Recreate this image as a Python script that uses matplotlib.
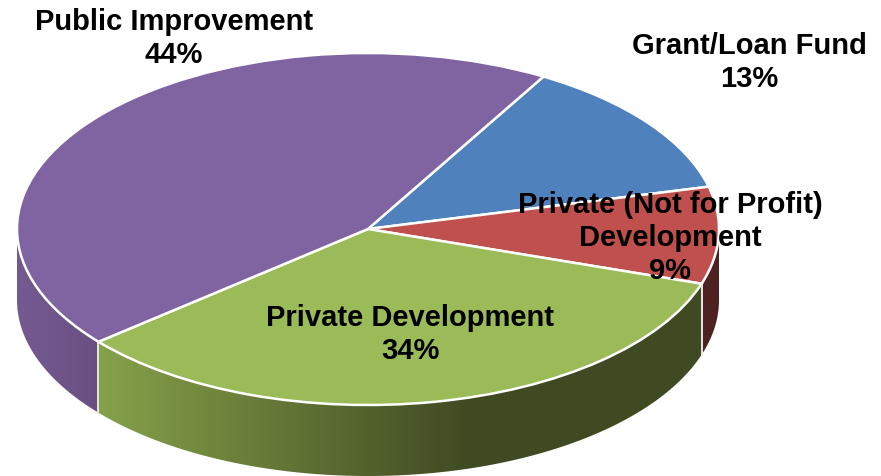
import numpy as np
import matplotlib
matplotlib.use("Agg")
import matplotlib.pyplot as plt
from matplotlib.colors import to_rgb
from matplotlib.patches import Polygon

categories = ["Grant/Loan Fund", "Private (Not for Profit)\nDevelopment", "Private Development", "Public Improvement"]
shares = [12.8, 8.9, 33.9, 44.4]
top_colors = ["#4f81bd", "#c0504d", "#9bbb59", "#8064a2"]
side_left = ["#2c4d75", "#4f2120", "#87a14a", "#755a92"]
side_right = ["#2c4d75", "#4f2120", "#3f4a22", "#6a4f82"]
label_px = [(749.5, 62.5), (670, 238), (410, 334.5), (174, 38.5)]

W, H = 881, 477
CX, CY, RX, RY, DEPTH = 368.0, 230.0, 351.0, 176.0, 71.0
START = 60.0

fig = plt.figure(figsize=(W / 100, H / 100), dpi=100)
ax = fig.add_axes([0, 0, 1, 1])
wedges, _ = ax.pie(shares, colors=top_colors, startangle=START, counterclock=False,
                   wedgeprops=dict(edgecolor="white", linewidth=1.8), normalize=True)
for w in wedges:
    w.set_zorder(5)
xlim = (-CX / RX, (W - CX) / RX)
ylim = ((CY - H) / RY, CY / RY)
d = DEPTH / RY
GRAD_END = (470 - CX) / RX   # gradient of the green wall ends here

# Extruded wall: the visible arc of each slice comes from the pie's own angles
for w, cl, cr in zip(wedges, side_left, side_right):
    for shift in (-360, 0, 360):
        lo, hi = max(w.theta1 + shift, 180), min(w.theta2 + shift, 360)
        if hi <= lo:
            continue
        ts = np.radians(np.linspace(lo, hi, 200))
        xs, ys = np.cos(ts), np.sin(ts)
        pts = np.c_[np.r_[xs, xs[::-1]], np.r_[ys, ys[::-1] - d]]
        xmin, xmax = xs.min(), xs.max()
        gmax = min(xmax, GRAD_END)
        cols = np.linspace(xmin, xmax, 400)
        t = np.clip((cols - xmin) / max(gmax - xmin, 1e-6), 0, 1)[None, :, None]
        a, b = np.array(to_rgb(cl)), np.array(to_rgb(cr))
        img = a[None, None, :] + (b - a)[None, None, :] * t
        im = ax.imshow(img, extent=(xmin, xmax, pts[:, 1].min(), pts[:, 1].max()),
                       aspect="auto", zorder=2, interpolation="bilinear")
        clip = Polygon(pts, closed=True, transform=ax.transData, fill=False, edgecolor="none")
        ax.add_patch(clip)
        im.set_clip_path(clip)
        for e in (lo, hi):
            if 181 < e < 359:
                x, y = np.cos(np.radians(e)), np.sin(np.radians(e))
                ax.plot([x, x], [y, y - d], color="#e4e4e4", lw=1.4, zorder=3)

ax.set_aspect("auto")
ax.set_xlim(*xlim)
ax.set_ylim(*ylim)
ax.axis("off")

for name, share, (px, py) in zip(categories, shares, label_px):
    ax.text((px - CX) / RX, (CY - py) / RY, f"{name}\n{round(share)}%", ha="center", va="center",
            fontsize=21, fontweight="bold", family="Liberation Sans", color="black",
            linespacing=1.23, zorder=10)

fig.savefig("out.png", dpi=100, facecolor="white")
